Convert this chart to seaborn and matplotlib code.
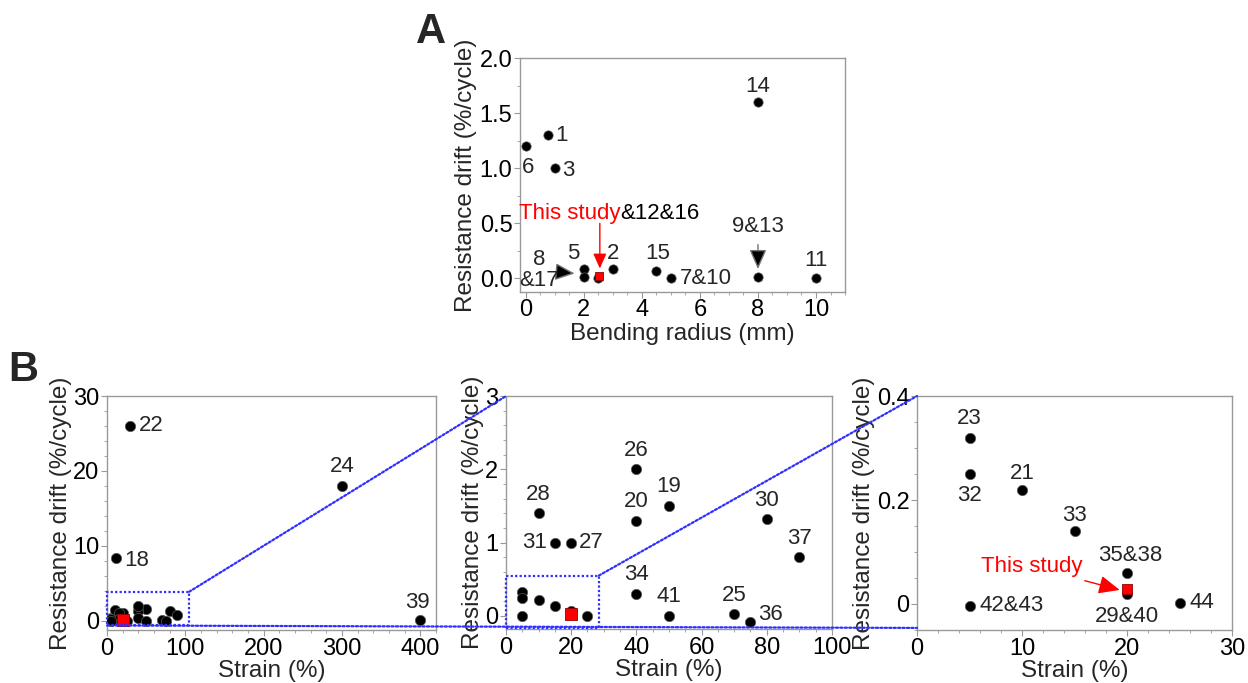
import matplotlib
matplotlib.use("Agg")
import matplotlib.pyplot as plt
import seaborn as sns
from matplotlib.patches import Rectangle, ConnectionPatch
from matplotlib.ticker import MultipleLocator, FuncFormatter

# Panel A: bending radius studies
bend_ref = ["6", "1", "3", "14", "5", "", "", "2", "15", "7&10", "", "11"]
bend_radius = [0, 0.75, 1.0, 8, 2, 2, 2.5, 3, 4.5, 5, 8, 10]
bend_drift = [1.2, 1.3, 1.0, 1.6, 0.085, 0.01, 0.0, 0.085, 0.065, 0.0, 0.015, 0.0]
this_bend_x = [2.53]
this_bend_y = [0.025]

# Panel B: strain studies
strain_ref = ["18", "19", "20", "21", "22", "23", "24", "25", "26", "27", "28",
              "29&40", "30", "31", "32", "33", "34", "35&38", "36", "37", "39",
              "41", "42&43", "44"]
strain = [12, 50, 40, 10, 30, 5, 300, 70, 40, 20, 10,
          20, 80, 15, 5, 15, 40, 20, 75, 90, 400,
          50, 5, 25]
strain_drift = [8.3, 1.5, 1.3, 0.22, 26, 0.32, 18, 0.02, 2.0, 1.0, 1.4,
                0.02, 1.32, 1.0, 0.25, 0.14, 0.3, 0.06, -0.08, 0.8, 0.05,
                0.0, -0.003, 0.002]
this_strain_x = [20]
this_strain_y = [0.028]

sns.set_style("ticks")
plt.rcParams['font.family'] = ['Liberation Sans', 'DejaVu Sans']

TICK_FS = 17
LAB_FS = 17.5
ANN_FS = 16

fig = plt.figure(figsize=(12.48, 6.83), dpi=100)
axA = fig.add_axes([0.4167, 0.573, 0.2604, 0.342])
axL = fig.add_axes([0.0857, 0.0772, 0.2636, 0.343])
axM = fig.add_axes([0.4054, 0.079, 0.2612, 0.341])
axR = fig.add_axes([0.7348, 0.0776, 0.2524, 0.3426])


def style_axes(ax):
    for s in ax.spines.values():
        s.set_visible(True)
        s.set_color('0.6')
        s.set_linewidth(1)
    ax.tick_params(which='both', direction='out', colors='0.6', labelcolor='black',
                   labelsize=TICK_FS, top=False, right=False, pad=1.5)
    ax.tick_params(which='major', length=4)
    ax.tick_params(which='minor', length=2)


def dots(ax, x, y, s):
    sns.scatterplot(x=x, y=y, ax=ax, color='black', s=s, edgecolor='0.35',
                    linewidth=0.5, legend=False, zorder=3)


def red_square(ax, x, y, s):
    sns.scatterplot(x=x, y=y, ax=ax, color='red', marker='s', s=s, edgecolor='#990000',
                    linewidth=0.6, legend=False, zorder=4)


def put_labels(ax, refs, xs, ys, offsets):
    for r, x, y in zip(refs, xs, ys):
        if r in offsets:
            dx, dy, ha = offsets[r]
            ax.annotate(r, (x, y), xytext=(dx, dy), textcoords='offset pixels',
                        ha=ha, va='center', fontsize=ANN_FS, zorder=5)


# ---- Panel A ----
dots(axA, bend_radius, bend_drift, 45)
red_square(axA, this_bend_x, this_bend_y, 36)
a_off = {"6": (2, -21, 'center'), "1": (8, 0, 'left'), "3": (7, -2, 'left'),
         "14": (0, 16, 'center'), "5": (-11, 16, 'center'), "2": (0, 16, 'center'),
         "15": (1, 18, 'center'), "7&10": (9, 0, 'left'), "11": (0, 18, 'center')}
put_labels(axA, bend_ref, bend_radius, bend_drift, a_off)

axA.annotate("8\n&17", xy=(1.68, 0.045), xytext=(0.45, 0.075), ha='center', va='center',
             fontsize=ANN_FS, linespacing=1.0,
             arrowprops=dict(arrowstyle='-|>,head_length=0.75,head_width=0.33',
                             ec='0.45', fc='black', lw=1, shrinkA=2, shrinkB=0))
axA.annotate("9&13", xy=(8, 0.085), xytext=(8, 0.47), ha='center', va='center',
             fontsize=ANN_FS,
             arrowprops=dict(arrowstyle='-|>,head_length=0.75,head_width=0.33',
                             ec='0.45', fc='black', lw=1, shrinkA=3, shrinkB=0))
axA.text(3.25, 0.59, "This study", color='red', ha='right', va='center', fontsize=ANN_FS)
axA.text(3.25, 0.59, "&12&16", color='black', ha='left', va='center', fontsize=ANN_FS)
axA.annotate("", xy=(2.55, 0.09), xytext=(2.55, 0.5),
             arrowprops=dict(arrowstyle='-|>,head_length=0.9,head_width=0.4',
                             color='red', lw=1, shrinkA=0, shrinkB=0))

axA.set_xlim(-0.2, 11)
axA.set_ylim(-0.12, 2.0)
axA.xaxis.set_major_locator(MultipleLocator(2))
axA.xaxis.set_minor_locator(MultipleLocator(0.5))
axA.yaxis.set_major_locator(MultipleLocator(0.5))
axA.yaxis.set_minor_locator(MultipleLocator(0.25))
axA.set_xlabel("Bending radius (mm)", fontsize=LAB_FS, labelpad=1)
axA.set_ylabel("Resistance drift (%/cycle)", fontsize=LAB_FS, labelpad=2)
style_axes(axA)

# ---- Panel B ----
fmt = FuncFormatter(lambda v, p: f"{v:g}")
for ax in (axL, axM, axR):
    dots(ax, strain, strain_drift, 55)
    red_square(ax, this_strain_x, this_strain_y, 50 if ax is axR else 70)
    ax.set_xlabel("Strain (%)", fontsize=LAB_FS, labelpad=0)
    ax.set_ylabel("Resistance drift (%/cycle)", fontsize=LAB_FS, labelpad=1)
    ax.yaxis.set_major_formatter(fmt)
    style_axes(ax)

l_off = {"22": (8, 0, 'left'), "18": (8, -2, 'left'), "24": (0, 19, 'center'),
         "39": (-3, 18, 'center')}
m_off = {"28": (0, 19, 'center'), "31": (-8, 0, 'right'), "27": (8, 0, 'left'),
         "26": (0, 19, 'center'), "20": (0, 19, 'center'), "19": (0, 19, 'center'),
         "30": (0, 19, 'center'), "37": (0, 19, 'center'), "34": (0, 19, 'center'),
         "41": (0, 19, 'center'), "25": (0, 19, 'center'), "36": (8, 7, 'left')}
r_off = {"23": (0, 19, 'center'), "32": (0, -21, 'center'), "21": (0, 16, 'center'),
         "33": (0, 16, 'center'), "35&38": (3, 17, 'center'), "29&40": (0, -23, 'center'),
         "42&43": (10, 0, 'left'), "44": (10, 0, 'left')}
put_labels(axL, strain_ref, strain, strain_drift, l_off)
put_labels(axM, strain_ref, strain, strain_drift, m_off)
put_labels(axR, strain_ref, strain, strain_drift, r_off)

axR.annotate("This study", xy=(19.3, 0.027), xytext=(10.9, 0.072), color='red',
             ha='center', va='center', fontsize=ANN_FS,
             arrowprops=dict(arrowstyle='-|>,head_length=0.8,head_width=0.35',
                             color='red', lw=1, shrinkA=1, shrinkB=0))

axL.set_xlim(0, 420)
axL.set_ylim(-1.3, 30)
axL.xaxis.set_major_locator(MultipleLocator(100))
axL.xaxis.set_minor_locator(MultipleLocator(20))
axL.yaxis.set_major_locator(MultipleLocator(10))
axL.yaxis.set_minor_locator(MultipleLocator(2))

axM.set_xlim(0, 100)
axM.set_ylim(-0.18, 3)
axM.xaxis.set_major_locator(MultipleLocator(20))
axM.xaxis.set_minor_locator(MultipleLocator(5))
axM.yaxis.set_major_locator(MultipleLocator(1))
axM.yaxis.set_minor_locator(MultipleLocator(0.2))

axR.set_xlim(0, 30)
axR.set_ylim(-0.05, 0.4)
axR.xaxis.set_major_locator(MultipleLocator(10))
axR.xaxis.set_minor_locator(MultipleLocator(2))
axR.yaxis.set_major_locator(MultipleLocator(0.2))
axR.yaxis.set_minor_locator(MultipleLocator(0.05))

# zoom boxes and connecting lines
blue = '#2f2fff'
dot_ls = (0, (1, 1))
axL.add_patch(Rectangle((0, -0.66), 105, 4.51, fill=False, ec=blue, ls=dot_ls,
                        lw=1.6, clip_on=False, zorder=6))
axM.add_patch(Rectangle((0, -0.16), 28.5, 0.71, fill=False, ec=blue, ls=dot_ls,
                        lw=1.6, clip_on=False, zorder=6))
for xyA, axa, xyB, axb in [((105, 3.85), axL, (0, 3), axM),
                           ((0, -0.66), axL, (0, -0.046), axR),
                           ((28.5, 0.55), axM, (0, 0.4), axR)]:
    con = ConnectionPatch(xyA=xyA, coordsA=axa.transData, xyB=xyB, coordsB=axb.transData,
                          color=blue, ls=dot_ls, lw=1.6, zorder=6)
    fig.add_artist(con)

fig.text(0.345, 0.953, "A", fontsize=30, fontweight='bold', ha='center', va='center')
fig.text(0.019, 0.458, "B", fontsize=30, fontweight='bold', ha='center', va='center')

fig.savefig("out.png", dpi=100)
